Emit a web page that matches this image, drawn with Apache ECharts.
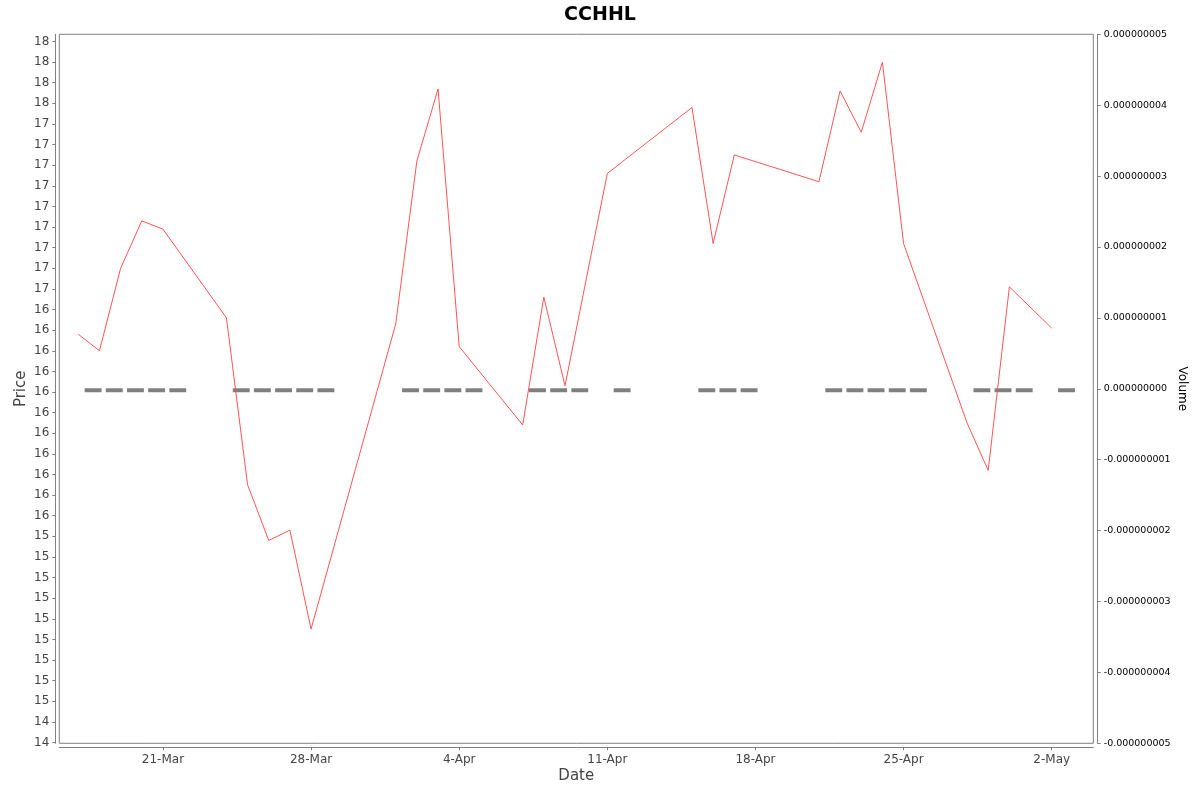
<!DOCTYPE html>
<html>
<head>
<meta charset="utf-8">
<script src="https://cdn.jsdelivr.net/npm/echarts@6/dist/echarts.min.js"></script>
<style>
html,body{margin:0;padding:0;background:#fff;}
#chart{width:1200px;height:792px;}
</style>
</head>
<body>
<div id="chart"></div>
<script>
// ---- data ----
const dates = ['2025-03-17','2025-03-18','2025-03-19','2025-03-20','2025-03-21',
  '2025-03-24','2025-03-25','2025-03-26','2025-03-27','2025-03-28',
  '2025-04-01','2025-04-02','2025-04-03','2025-04-04',
  '2025-04-07','2025-04-08','2025-04-09','2025-04-11',
  '2025-04-15','2025-04-16','2025-04-17',
  '2025-04-21','2025-04-22','2025-04-23','2025-04-24','2025-04-25',
  '2025-04-28','2025-04-29','2025-04-30','2025-05-02'];
const prices = [16.38,16.30,16.70,16.93,16.89,
  16.46,15.65,15.38,15.43,14.95,
  16.43,17.22,17.57,16.32,
  15.94,16.56,16.13,17.16,
  17.48,16.82,17.25,
  17.12,17.56,17.36,17.70,16.82,
  15.95,15.72,16.61,16.41];
const volumes = [0,0,0,0,0, 0,0,0,0,0, 0,0,0,0, 0,0,0,0, 0,0,0, 0,0,0,0,0, 0,0,0,0];
const dateTicks = ['2025-03-21','2025-03-28','2025-04-04','2025-04-11','2025-04-18','2025-04-25','2025-05-02'];
const priceTickValues = [14.4,14.5,14.6,14.7,14.8,14.9,15.0,15.1,15.2,15.3,15.4,15.5,15.6,15.7,15.8,15.9,16.0,
  16.1,16.2,16.3,16.4,16.5,16.6,16.7,16.8,16.9,17.0,17.1,17.2,17.3,17.4,17.5,17.6,17.7,17.8];
const priceTickLabels = ['14','14','15','15','15','15','15','15','15','15','15','16','16','16','16','16','16',
  '16','16','16','16','16','17','17','17','17','17','17','17','17','17','18','18','18','18'];
const monthNames = ['Jan','Feb','Mar','Apr','May','Jun','Jul','Aug','Sep','Oct','Nov','Dec'];

// ---- helpers ----
const DAY = 86400000;
function ts(s){ const p = s.split('-').map(Number); return Date.UTC(p[0], p[1]-1, p[2]); }
const FONT = 'DejaVu Sans';
const dateTickValues = dateTicks.map(ts);

const chart = echarts.init(document.getElementById('chart'), null, {renderer:'canvas'});
const option = {
  animation: false,
  backgroundColor: '#fff',
  title: {
    text: 'CCHHL', left: 'center', top: 1,
    textStyle: {fontFamily: FONT, fontWeight: 'bold', fontSize: 19, color: '#000'}
  },
  grid: {
    left: 59.3, right: 106.7, top: 34.3, bottom: 48.7,
    containLabel: false, outerBoundsMode: 'none',
    show: true, borderColor: '#808080', borderWidth: 1, backgroundColor: '#fff'
  },
  xAxis: {
    type: 'value',
    min: ts(dates[0]) - 0.898*DAY,
    max: ts(dates[dates.length-1]) + 1.966*DAY,
    offset: 4,
    name: 'Date', nameLocation: 'middle', nameGap: 21, nameMoveOverlap: false,
    nameTextStyle: {fontFamily: FONT, fontSize: 15, color: '#444'},
    axisLine: {show: true, onZero: false, lineStyle: {color: '#808080', width: 1}},
    axisTick: {show: true, length: 3, lineStyle: {color: '#808080'}, customValues: dateTickValues},
    axisLabel: {
      customValues: dateTickValues, margin: 7,
      fontFamily: FONT, fontSize: 12, color: '#444',
      formatter: function(v){ const d = new Date(v); return d.getUTCDate() + '-' + monthNames[d.getUTCMonth()]; }
    },
    splitLine: {show: false}
  },
  yAxis: [{
    type: 'value', position: 'left',
    min: 14.396, max: 17.835, offset: 4,
    name: 'Price', nameLocation: 'middle', nameGap: 27, nameMoveOverlap: false,
    nameTextStyle: {fontFamily: FONT, fontSize: 15, color: '#444'},
    axisLine: {show: true, onZero: false, lineStyle: {color: '#808080', width: 1}},
    axisTick: {show: true, length: 3, lineStyle: {color: '#808080'}, customValues: priceTickValues},
    axisLabel: {
      customValues: priceTickValues, margin: 6,
      fontFamily: FONT, fontSize: 12, color: '#444',
      formatter: function(v){
        const i = priceTickValues.findIndex(t => Math.abs(t - v) < 1e-6);
        return i >= 0 ? priceTickLabels[i] : '';
      }
    },
    splitLine: {show: false}
  }, {
    type: 'value', position: 'right',
    min: -5e-9, max: 5e-9, interval: 1e-9, offset: 4.4,
    name: 'Volume', nameLocation: 'middle', nameGap: 78, nameRotate: -90, nameMoveOverlap: false,
    nameTextStyle: {fontFamily: FONT, fontSize: 12, color: '#000'},
    axisLine: {show: true, onZero: false, lineStyle: {color: '#808080', width: 1}},
    axisTick: {show: true, length: 3, lineStyle: {color: '#808080'}},
    axisLabel: {
      margin: 6, fontFamily: FONT, fontSize: 9.5, color: '#000',
      formatter: function(v){ if (Math.abs(v) < 1e-15) v = 0; return v.toFixed(9); }
    },
    splitLine: {show: false}
  }],
  series: [{
    type: 'custom',
    yAxisIndex: 1,
    z: 1,
    clip: true,
    data: dates.map((d, i) => [ts(d), volumes[i]]),
    renderItem: function(params, api){
      const t = api.value(0), v = api.value(1);
      const p0 = api.coord([t + 0.3*DAY, 0]);
      const p1 = api.coord([t + 1.1*DAY, v]);
      const top = Math.min(p0[1], p1[1]) - 0.5;
      const h = Math.max(Math.abs(p1[1] - p0[1]), 4);
      return {
        type: 'rect',
        shape: {x: p0[0], y: top, width: p1[0] - p0[0], height: h},
        style: {fill: '#808080'}
      };
    }
  }, {
    type: 'line',
    yAxisIndex: 0,
    z: 3,
    data: dates.map((d, i) => [ts(d), prices[i]]),
    showSymbol: false,
    symbol: 'none',
    lineStyle: {color: '#ff5555', width: 1},
    itemStyle: {color: '#ff5555'}
  }]
};
chart.setOption(option);
</script>
</body>
</html>
